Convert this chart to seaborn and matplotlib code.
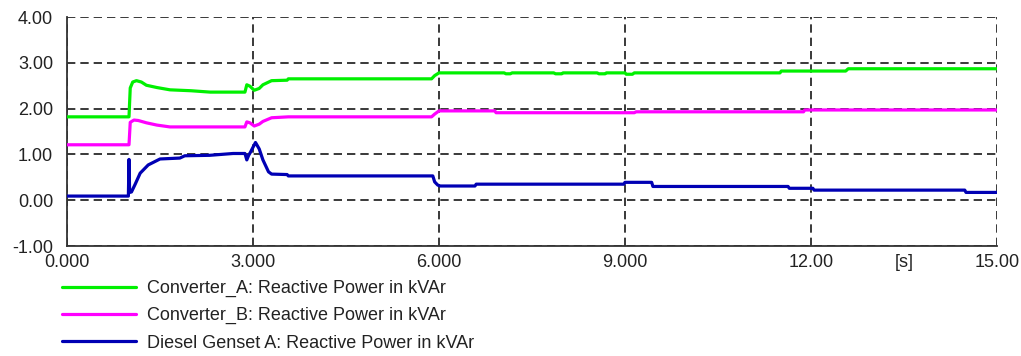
import matplotlib
matplotlib.use("Agg")
import matplotlib.pyplot as plt
import numpy as np
import pandas as pd
import seaborn as sns

# Reactive power traces (time in s, value in kVAr)
conv_a_t = [0.0, 1.0, 1.02, 1.06, 1.12, 1.2, 1.28, 1.45, 1.66, 2.0, 2.31, 2.87, 2.9, 2.95,
            3.02, 3.1, 3.16, 3.3, 3.55, 3.57, 5.88, 5.93, 6.0, 7.05, 7.08, 7.15, 7.18,
            7.85, 7.88, 7.98, 8.0, 8.55, 8.58, 8.68, 8.7, 9.0, 9.02, 9.12, 9.15,
            11.5, 11.52, 12.56, 12.6, 15.0]
conv_a_v = [1.82, 1.82, 2.45, 2.58, 2.61, 2.58, 2.51, 2.46, 2.41, 2.39, 2.36, 2.36, 2.52, 2.49,
            2.40, 2.44, 2.52, 2.61, 2.62, 2.65, 2.65, 2.72, 2.78, 2.78, 2.76, 2.76, 2.78,
            2.78, 2.76, 2.76, 2.78, 2.78, 2.76, 2.76, 2.78, 2.78, 2.75, 2.75, 2.78,
            2.78, 2.82, 2.82, 2.87, 2.87]

conv_b_t = [0.0, 1.0, 1.02, 1.08, 1.15, 1.28, 1.45, 1.66, 2.87, 2.9, 2.95, 3.02, 3.1, 3.16,
            3.3, 3.57, 5.88, 5.93, 6.0, 6.9, 6.92, 9.15, 9.18, 11.88, 11.9, 15.0]
conv_b_v = [1.21, 1.21, 1.70, 1.75, 1.74, 1.69, 1.64, 1.60, 1.60, 1.71, 1.69, 1.62, 1.66, 1.72,
            1.80, 1.82, 1.82, 1.88, 1.95, 1.95, 1.91, 1.91, 1.93, 1.93, 1.97, 1.97]

diesel_t = [0.0, 0.99, 1.0, 1.01, 1.04, 1.1, 1.18, 1.31, 1.5, 1.82, 1.9, 2.3, 2.68, 2.87,
            2.9, 2.93, 2.96, 3.04, 3.1, 3.16, 3.25, 3.3, 3.55, 3.57, 5.9, 5.93, 5.98, 6.02,
            6.58, 6.6, 8.98, 9.0, 9.43, 9.45, 11.63, 11.65, 12.03, 12.05, 14.48, 14.5, 15.0]
diesel_v = [0.09, 0.09, 0.89, 0.17, 0.18, 0.35, 0.59, 0.77, 0.90, 0.92, 0.97, 0.98, 1.02, 1.02,
            0.88, 0.98, 1.05, 1.26, 1.12, 0.88, 0.62, 0.57, 0.56, 0.53, 0.53, 0.40, 0.33, 0.31,
            0.31, 0.35, 0.35, 0.39, 0.39, 0.30, 0.30, 0.26, 0.26, 0.22, 0.22, 0.17, 0.17]

series_names = ["Converter_A: Reactive Power in kVAr",
                "Converter_B: Reactive Power in kVAr",
                "Diesel Genset A: Reactive Power in kVAr"]
series_colors = ["#00f000", "#ff00ff", "#0000b4"]

x_ticks = [0, 3, 6, 9, 12, 15]
x_tick_labels = ["0.000", "3.000", "6.000", "9.000", "12.00", "15.00"]
x_minor_ticks = [1.5, 4.5, 7.5, 10.5, 13.5]
x_minor_labels = ["", "", "", "", "[s]"]
y_ticks = [-1, 0, 1, 2, 3, 4]
y_tick_labels = ["-1.00", "0.00", "1.00", "2.00", "3.00", "4.00"]
y_minor_ticks = [-0.5, 0.5, 1.5, 2.5, 3.5]

frames = []
for name, t, v in [(series_names[0], conv_a_t, conv_a_v),
                   (series_names[1], conv_b_t, conv_b_v),
                   (series_names[2], diesel_t, diesel_v)]:
    frames.append(pd.DataFrame({"t": t, "q": v, "series": name}))
df = pd.concat(frames, ignore_index=True)

sns.set_style("white")
plt.rcParams["font.family"] = ["Liberation Sans", "DejaVu Sans"]
plt.rcParams["lines.scale_dashes"] = False

text_color = "#222222"
font_size = 13
dpi = 100
fig = plt.figure(figsize=(10.21, 3.56), dpi=dpi)
ax = fig.add_axes([67 / 1021, 1 - 246 / 356, (997 - 67) / 1021, (246 - 17) / 356])

sns.lineplot(data=df, x="t", y="q", hue="series", hue_order=series_names,
             palette=dict(zip(series_names, series_colors)), estimator=None,
             sort=False, linewidth=2.3, ax=ax, legend=True, zorder=3)

handles, labels = ax.get_legend_handles_labels()
ax.get_legend().remove()

ax.set_xlim(0, 15)
ax.set_ylim(-1, 4)
ax.set_xlabel("")
ax.set_ylabel("")

ax.set_xticks(x_ticks)
ax.set_xticklabels(x_tick_labels)
ax.set_xticks(x_minor_ticks, minor=True)
ax.set_xticklabels(x_minor_labels, minor=True)
ax.set_yticks(y_ticks)
ax.set_yticklabels(y_tick_labels)
ax.set_yticks(y_minor_ticks, minor=True)

ax.grid(True, which="major", color="#2a2a2a", linewidth=1.3,
        linestyle=(0, (6.0, 3.6)), zorder=1)
for s in ["top", "right"]:
    ax.spines[s].set_visible(False)
for s in ["left", "bottom"]:
    ax.spines[s].set_color("#333333")
    ax.spines[s].set_linewidth(1.3)

ax.tick_params(axis="both", which="major", direction="in", length=8, width=1.2,
               color="#333333", labelsize=font_size, labelcolor=text_color)
ax.tick_params(axis="both", which="minor", direction="in", length=3, width=1.2,
               color="#333333", labelsize=font_size, labelcolor=text_color)
ax.tick_params(axis="x", which="both", pad=6)
ax.tick_params(axis="y", which="both", pad=10)

leg = fig.legend(handles, labels, loc="upper left",
                 bbox_to_anchor=(62 / 1021, 1 - 280 / 356),
                 frameon=False, fontsize=font_size, handlelength=4.1, handletextpad=0.6,
                 labelspacing=0.56, borderpad=0, borderaxespad=0)
for line in leg.get_lines():
    line.set_linewidth(2.3)
for txt in leg.get_texts():
    txt.set_color(text_color)

fig.savefig("out.png", dpi=dpi)
